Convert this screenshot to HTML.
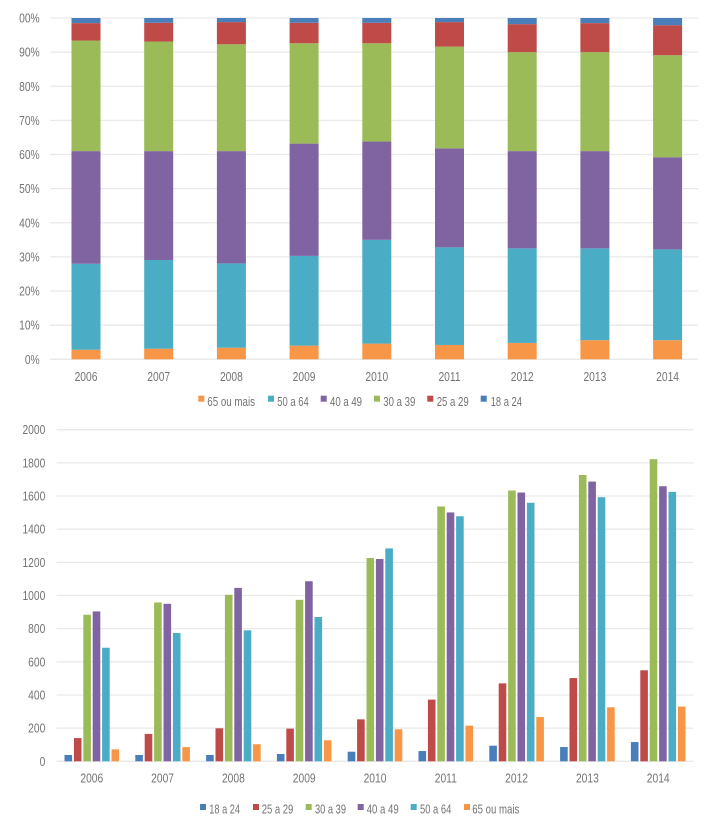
<!DOCTYPE html>
<html lang="pt">
<head>
<meta charset="utf-8">
<title>Faixas etárias 2006–2014</title>
<style>
html,body{margin:0;padding:0;background:#fff;}
svg{display:block;filter:blur(0.35px);}
text{font-family:"Liberation Sans",sans-serif;fill:#747474;font-size:13px;}
</style>
</head>
<body>
<svg id="root" xmlns="http://www.w3.org/2000/svg" width="710" height="828" viewBox="0 0 710 828">
  <g id="stacked-chart"></g>
  <g id="top-legend">
    <g><rect x="198.3" y="395.7" width="6" height="6" fill="#f79646"/><text x="207.3" y="406" textLength="47.7" lengthAdjust="spacingAndGlyphs">65 ou mais</text></g>
    <g><rect x="268" y="395.7" width="6" height="6" fill="#4bacc6"/><text x="277.3" y="406" textLength="31.4" lengthAdjust="spacingAndGlyphs">50 a 64</text></g>
    <g><rect x="320.7" y="395.7" width="6" height="6" fill="#8064a2"/><text x="330" y="406" textLength="32" lengthAdjust="spacingAndGlyphs">40 a 49</text></g>
    <g><rect x="374" y="395.7" width="6" height="6" fill="#9bbb59"/><text x="383.3" y="406" textLength="32" lengthAdjust="spacingAndGlyphs">30 a 39</text></g>
    <g><rect x="427.3" y="395.7" width="6" height="6" fill="#be4b48"/><text x="436.7" y="406" textLength="32" lengthAdjust="spacingAndGlyphs">25 a 29</text></g>
    <g><rect x="480.7" y="395.7" width="6" height="6" fill="#4a7ebb"/><text x="490.7" y="406" textLength="31.3" lengthAdjust="spacingAndGlyphs">18 a 24</text></g>
  </g>
  <g id="grouped-chart"></g>
  <g id="bottom-legend">
    <g><rect x="200" y="804" width="6" height="6" fill="#4a7ebb"/><text x="209.3" y="813.5" textLength="30.7" lengthAdjust="spacingAndGlyphs">18 a 24</text></g>
    <g><rect x="253" y="804" width="6" height="6" fill="#be4b48"/><text x="261.7" y="813.5" textLength="31.6" lengthAdjust="spacingAndGlyphs">25 a 29</text></g>
    <g><rect x="305.7" y="804" width="6" height="6" fill="#9bbb59"/><text x="315" y="813.5" textLength="31" lengthAdjust="spacingAndGlyphs">30 a 39</text></g>
    <g><rect x="357.7" y="804" width="6" height="6" fill="#8064a2"/><text x="366.7" y="813.5" textLength="32" lengthAdjust="spacingAndGlyphs">40 a 49</text></g>
    <g><rect x="410.7" y="804" width="6" height="6" fill="#4bacc6"/><text x="420" y="813.5" textLength="31.3" lengthAdjust="spacingAndGlyphs">50 a 64</text></g>
    <g><rect x="464" y="804" width="6" height="6" fill="#f79646"/><text x="472.3" y="813.5" textLength="47" lengthAdjust="spacingAndGlyphs">65 ou mais</text></g>
  </g>
</svg>
<script>
var years = ["2006","2007","2008","2009","2010","2011","2012","2013","2014"];

// Stacked chart: share of each age group, percent
var share65 = [2.8,3.1,3.4,4.0,4.6,4.2,4.8,5.6,5.6];
var share50 = [25.2,26.0,24.7,26.3,30.4,28.6,27.7,26.9,26.6];
var share40 = [33.0,31.9,32.9,32.9,28.8,29.0,28.5,28.5,27.0];
var share30 = [32.4,32.1,31.3,29.4,28.8,29.8,29.0,29.0,29.9];
var share25 = [5.1,5.5,6.5,6.0,6.0,7.2,8.2,8.5,8.8];
var share18 = [1.5,1.4,1.2,1.4,1.4,1.2,1.8,1.5,2.1];
var percentTicks = [0,10,20,30,40,50,60,70,80,90,100];
var percentTickLabels = ["0%","10%","20%","30%","40%","50%","60%","70%","80%","90%","00%"];

// Grouped chart: counts
var count18 = [38,38,38,44,58,62,94,86,116];
var count25 = [140,165,199,197,253,372,470,502,549];
var count30 = [884,958,1004,974,1226,1537,1633,1727,1822];
var count40 = [904,950,1046,1086,1220,1501,1621,1687,1659];
var count50 = [685,774,790,870,1284,1478,1559,1593,1625];
var count65 = [72,86,103,127,193,215,267,326,330];
var countTicks = [0,200,400,600,800,1000,1200,1400,1600,1800,2000];

var NS = "http://www.w3.org/2000/svg";
var COLORS = {c18:"#4a7ebb",c25:"#be4b48",c30:"#9bbb59",c40:"#8064a2",c50:"#4bacc6",c65:"#f79646"};
var GRID = "#e9e9e9";

function make(tag, attrs, parent){
  var el = document.createElementNS(NS, tag);
  for (var k in attrs) el.setAttribute(k, attrs[k]);
  parent.appendChild(el);
  return el;
}
function label(str, x, y, anchor, parent){
  var t = make("text", {x:x, y:y, "text-anchor":anchor}, parent);
  t.textContent = str;
  t.setAttribute("textLength", (t.getComputedTextLength() * 0.79).toFixed(2));
  t.setAttribute("lengthAdjust", "spacingAndGlyphs");
  return t;
}

/* ---------- stacked percent chart ---------- */
var pctY = function(v){ return 359.3 - v * 3.413; };
var topBandX = function(i){ return 86 + i * 72.7; };
var stackedRoot = document.getElementById("stacked-chart");
var stackSeries = [
  {name:"65-ou-mais", values:share65, color:COLORS.c65},
  {name:"50-a-64", values:share50, color:COLORS.c50},
  {name:"40-a-49", values:share40, color:COLORS.c40},
  {name:"30-a-39", values:share30, color:COLORS.c30},
  {name:"25-a-29", values:share25, color:COLORS.c25},
  {name:"18-a-24", values:share18, color:COLORS.c18}
];
percentTicks.forEach(function(v, i){
  var line = make("line", {x1:50, x2:698, y1:pctY(v), y2:pctY(v), stroke:GRID, "stroke-width":1.3}, stackedRoot);
  
  
  var tick = label(percentTickLabels[i], 39.7, pctY(v) + 4.5, "end", stackedRoot);
  
  
});
years.forEach(function(year, i){
  var base = 0;
  stackSeries.forEach(function(s){
    var v = s.values[i];
    var seg = make("rect", {x:topBandX(i) - 14.5, width:29, y:pctY(base + v), height:pctY(base) - pctY(base + v), fill:s.color}, stackedRoot);
    
    
    base += v;
  });
  var xl = label(year, topBandX(i), 381, "middle", stackedRoot);
  
  
});

/* ---------- grouped count chart ---------- */
var cntY = function(v){ return 761.3 - v * 0.1658; };
var botBandX = function(i){ return 91.8 + i * 70.8; };
var groupedRoot = document.getElementById("grouped-chart");
var groupSeries = [
  {name:"18-a-24", values:count18, color:COLORS.c18},
  {name:"25-a-29", values:count25, color:COLORS.c25},
  {name:"30-a-39", values:count30, color:COLORS.c30},
  {name:"40-a-49", values:count40, color:COLORS.c40},
  {name:"50-a-64", values:count50, color:COLORS.c50},
  {name:"65-ou-mais", values:count65, color:COLORS.c65}
];
countTicks.forEach(function(v){
  var line = make("line", {x1:56.7, x2:693.3, y1:cntY(v), y2:cntY(v), stroke:GRID, "stroke-width":1.3}, groupedRoot);
  
  
  var tick = label(String(v), 45.3, cntY(v) + 4.5, "end", groupedRoot);
  
  
});
years.forEach(function(year, i){
  groupSeries.forEach(function(s, j){
    var v = s.values[i];
    var bar = make("rect", {x:botBandX(i) + (j - 2.5) * 9.4 - 3.8, width:7.6, y:cntY(v), height:cntY(0) - cntY(v), fill:s.color}, groupedRoot);
    
    
  });
  var xl = label(year, botBandX(i), 782.5, "middle", groupedRoot);
  
  
});
</script>
</body>
</html>
